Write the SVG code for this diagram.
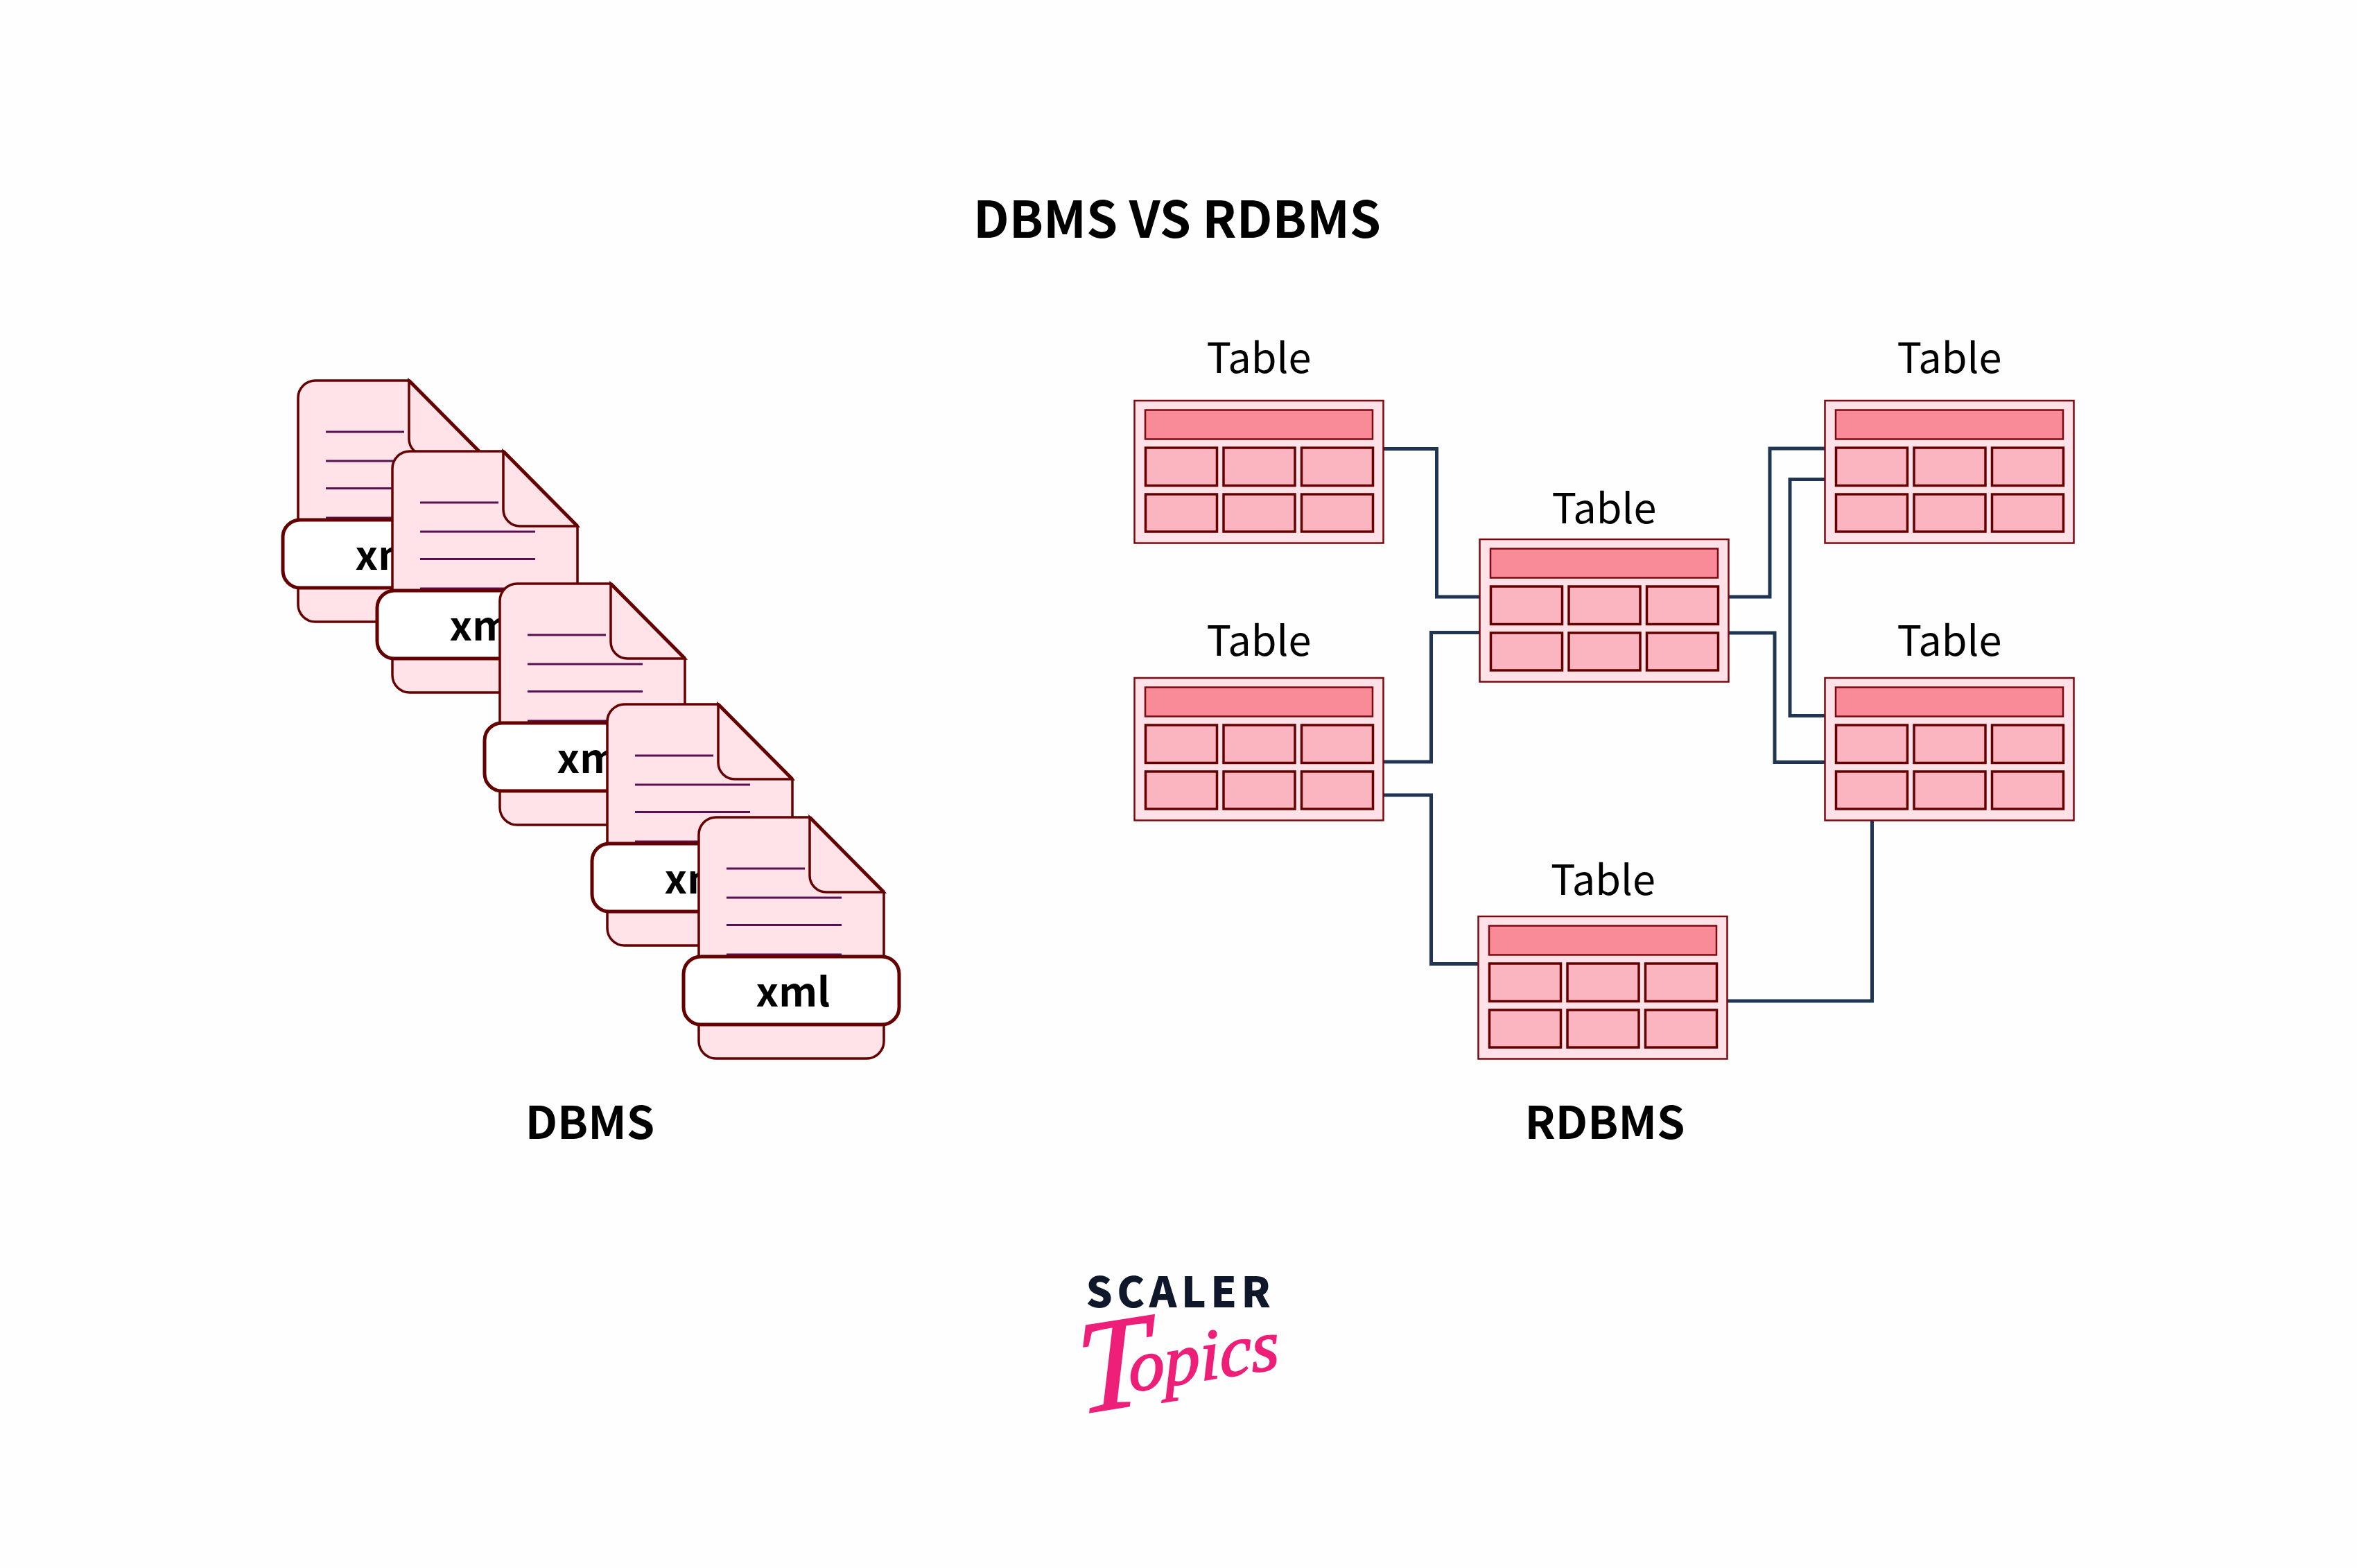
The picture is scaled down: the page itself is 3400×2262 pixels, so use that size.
<svg xmlns="http://www.w3.org/2000/svg" width="3400" height="2262" viewBox="0 0 3400 2262">
<style>
text{font-family:"Noto Sans CJK SC","Noto Sans",sans-serif;fill:#000;text-anchor:middle}
.title{font-size:72.500px;font-weight:700}
.sub{font-size:65px;font-weight:700}
.tbl{font-size:59.500px;font-weight:400}
.xml{font-size:58px;font-weight:700}
.wire{fill:none;stroke:#1f3552;stroke-width:5}
.tf{fill:#ffe1e7;stroke:#7a0a10;stroke-width:2.5}
.th{fill:#f98b98;stroke:#7a0a10;stroke-width:2.5}
.tc{fill:#fbb5c1;stroke:#640000;stroke-width:3.5}
.df{fill:#ffe3e8;stroke:#640000;stroke-width:3.5}
.dd{fill:none;stroke:#640000;stroke-width:5}
.dl{fill:none;stroke:#5a1050;stroke-width:3}
.lb{fill:#fff;stroke:#640000;stroke-width:5}
</style>
<defs>
<g id="table">
<rect class="tf" x="0" y="0" width="359" height="205.5"/>
<rect class="th" x="15.5" y="13.5" width="328" height="42"/>
<rect class="tc" x="16" y="68" width="103" height="54.5"/>
<rect class="tc" x="128.500" y="68" width="103" height="54.5"/>
<rect class="tc" x="241" y="68" width="103" height="54.5"/>
<rect class="tc" x="16" y="135" width="103" height="54"/>
<rect class="tc" x="128.500" y="135" width="103" height="54"/>
<rect class="tc" x="241" y="135" width="103" height="54"/>
</g>
<g id="doc">
<path class="df" d="M25,0H160L267,108V323a25,25 0 0 1 -25,25H25a25,25 0 0 1 -25,-25V25a25,25 0 0 1 25,-25Z"/>
<path class="df" d="M160,0V84a24,24 0 0 0 24,24H267Z"/>
<path class="dd" d="M160,0L267,108"/>
<path class="dl" d="M40,74H153M40,116H206M40,155.500H206M40,198H206"/>
<rect class="lb" x="-22" y="201" width="311" height="98" rx="25"/>
</g>
</defs>
<rect width="3400" height="2262" fill="#fefefe"/>
<text class="title" x="1698" y="343">DBMS VS RDBMS</text>
<g id="connectors">
<path class="wire" d="M1995,647.500H2072.500V861H2135"/>
<path class="wire" d="M2135,912.500H2064.500V1099H1995"/>
<path class="wire" d="M1995,1147H2064.500V1390.500H2133"/>
<path class="wire" d="M2491,1444H2700.500V1183"/>
<path class="wire" d="M2491,861H2553V647H2632"/>
<path class="wire" d="M2491,913H2560V1099.500H2632"/>
<path class="wire" d="M2633,691.500H2582V1032.500H2632"/>
</g>
<g id="doc1"><use href="#doc" x="430" y="549"/><text class="xml" x="566" y="822">xml</text></g>
<g id="doc2"><use href="#doc" x="566" y="651"/><text class="xml" x="702" y="924">xml</text></g>
<g id="doc3"><use href="#doc" x="721" y="842"/><text class="xml" x="857" y="1115">xml</text></g>
<g id="doc4"><use href="#doc" x="876" y="1016"/><text class="xml" x="1012" y="1289">xml</text></g>
<g id="doc5"><use href="#doc" x="1008" y="1179"/><text class="xml" x="1144" y="1452">xml</text></g>
<text class="sub" x="851" y="1643">DBMS</text>
<g id="table1"><use href="#table" x="1636.500" y="578"/><text class="tbl" x="1816" y="538">Table</text></g>
<g id="table2"><use href="#table" x="1636.500" y="978"/><text class="tbl" x="1816" y="946">Table</text></g>
<g id="table3"><use href="#table" x="2632.500" y="578"/><text class="tbl" x="2812" y="538">Table</text></g>
<g id="table4"><use href="#table" x="2632.500" y="978"/><text class="tbl" x="2812" y="946">Table</text></g>
<g id="table5"><use href="#table" x="2134.500" y="778"/><text class="tbl" x="2314" y="755">Table</text></g>
<g id="table6"><use href="#table" x="2132.500" y="1322"/><text class="tbl" x="2312.500" y="1291">Table</text></g>
<text class="sub" x="2315" y="1643">RDBMS</text>
<g id="logo">
<text x="1703" y="1886" style="font-size:60px;font-weight:900;letter-spacing:6.500px;fill:#0f172a">SCALER</text>
<text transform="translate(1556,2040) rotate(-9) skewX(-6)" style="font-family:'Liberation Serif',serif;font-style:italic;font-size:190px;fill:#ee1f78;stroke:#ee1f78;stroke-width:2;text-anchor:start">T<tspan dx="-30" dy="-20" font-size="104">opics</tspan></text>
</g>
</svg>
